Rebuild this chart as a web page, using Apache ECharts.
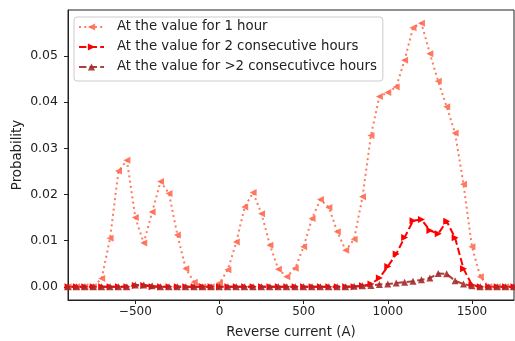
<!DOCTYPE html>
<html>
<head>
<meta charset="utf-8">
<script src="https://cdn.jsdelivr.net/npm/echarts@6/dist/echarts.min.js"></script>
<style>
html,body{margin:0;padding:0;background:#fff;}
#chart{width:515px;height:341px;}
</style>
</head>
<body>
<div id="chart"></div>
<script>
// Reverse current (A)
const currents = [-900,-850,-800,-750,-700,-650,-600,-550,-500,-450,-400,-350,-300,-250,-200,-150,-100,-50,
  0,50,100,150,200,250,300,350,400,450,500,550,600,650,700,750,800,850,900,950,1000,1050,1100,1150,1200,
  1250,1300,1350,1400,1450,1500,1550,1600,1650,1700,1750];

const oneHour = [0,0,0,0,0.0018,0.0105,0.0251,0.0274,0.0150,0.0095,0.0162,0.0228,0.0202,0.0112,0.0039,0.0010,0,0,
  0.0008,0.0037,0.0097,0.0173,0.0204,0.0158,0.0090,0.0038,0.0022,0.0040,0.0087,0.0148,0.0189,0.0172,0.0119,0.0079,0.0103,0.0195,0.0328,0.0412,0.0421,0.0433,0.0491,0.0561,0.0571,
  0.0505,0.0445,0.0390,0.0333,0.0222,0.0087,0.0022,0,0,0,0];

const twoHours = [0,0,0,0,0,0,0,0,0.0003,0.0003,0,0,0,0,0,0,0,0,
  0,0,0,0,0,0,0,0,0,0,0,0,0,0,0,0,0,0.0002,0.0006,0.0019,0.0044,0.0071,0.0107,0.0143,0.0146,
  0.0122,0.0115,0.0142,0.0106,0.0039,0.0004,0,0,0,0,0];

const moreHours = [0,0,0,0,0,0,0,0,0.0004,0.0004,0.0002,0,0,0,0,0,0,0,
  0,0,0,0,0,0,0,0,0,0,0,0,0,0,0,0,0.0001,0.0002,0.0003,0.0005,0.0006,0.0008,0.0010,0.0012,0.0015,
  0.0019,0.0029,0.0028,0.0013,0.0006,0.0002,0,0,0,0,0];

const seriesNames = ['At the value for 1 hour','At the value for 2 consecutive hours','At the value for >2 consecutivce hours'];

function pairs(ys){ return currents.map((x,i)=>[x, ys[i]]); }

const font = 'DejaVu Sans';
const chart = echarts.init(document.getElementById('chart'), null, {renderer:'canvas'});
chart.setOption({
  animation:false,
  backgroundColor:'#fff',
  grid:{left:68, right:1, top:10, bottom:41, containLabel:false, outerBoundsMode:'none',
    show:true, borderColor:'#222', borderWidth:1, backgroundColor:'transparent'},
  legend:{
    left:74, top:17, orient:'vertical',
    itemWidth:25, itemHeight:9, itemGap:6,
    padding:[3,6,7,4],
    backgroundColor:'rgba(255,255,255,0.8)',
    borderColor:'#ccc', borderWidth:1, borderRadius:3,
    textStyle:{fontFamily:font, fontSize:13.3, lineHeight:14, color:'#222', padding:[0,0,0,8]},
    data:seriesNames
  },
  xAxis:{
    type:'value', min:-900, max:1750,
    name:'Reverse current (A)', nameLocation:'middle', nameGap:26, nameMoveOverlap:false,
    nameTextStyle:{fontFamily:font, fontSize:13.3, color:'#222'},
    axisLine:{show:true, onZero:false, lineStyle:{color:'#222'}},
    axisTick:{show:true, length:4, lineStyle:{color:'#222'}},
    axisLabel:{fontFamily:font, fontSize:12, color:'#222', margin:6, showMinLabel:false, showMaxLabel:false,
      formatter:v=> (v<0? '\u2212'+Math.abs(v) : String(v))},
    splitLine:{show:false}
  },
  yAxis:{
    type:'value', min:-0.00286, max:0.05996,
    name:'Probability', nameLocation:'middle', nameGap:44, nameMoveOverlap:false,
    nameTextStyle:{fontFamily:font, fontSize:13.3, color:'#222'},
    axisLine:{show:true, onZero:false, lineStyle:{color:'#222'}},
    axisTick:{show:true, length:4, lineStyle:{color:'#222'}},
    axisLabel:{fontFamily:font, fontSize:12.5, color:'#222', margin:10, showMinLabel:false, showMaxLabel:false,
      formatter:v=>v.toFixed(2)},
    splitLine:{show:false}
  },
  series:[
    {name:seriesNames[0], type:'line', data:pairs(oneHour), symbol:'triangle', symbolRotate:90, symbolSize:7,
      lineStyle:{color:'#ff6347', width:2, type:[2,3.3], opacity:0.85},
      itemStyle:{color:'#ff6347', opacity:0.85}},
    {name:seriesNames[1], type:'line', data:pairs(twoHours), symbol:'triangle', symbolRotate:-90, symbolSize:7,
      lineStyle:{color:'#ff0000', width:2, type:[7.4,3.2]},
      itemStyle:{color:'#ff0000'}},
    {name:seriesNames[2], type:'line', data:pairs(moreHours), symbol:'triangle', symbolSize:7,
      lineStyle:{color:'#a52a2a', width:2, type:[7.4,3.2], opacity:0.9},
      itemStyle:{color:'#a52a2a', opacity:0.9}}
  ]
});
</script>
</body>
</html>
